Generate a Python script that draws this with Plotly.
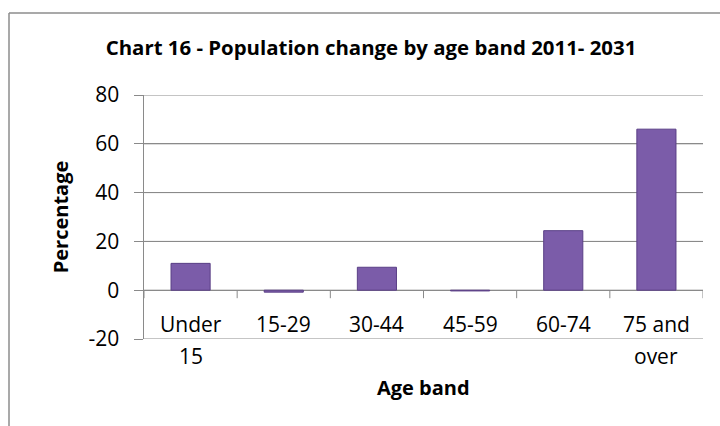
import plotly.graph_objects as go

categories = ["Under 15", "15-29", "30-44", "45-59", "60-74", "75 and over"]
label_line1 = ["Under", "15-29", "30-44", "45-59", "60-74", "75 and"]
label_line2 = ["15", "", "", "", "", "over"]
values = [11.0, -0.8, 9.4, -0.3, 24.4, 66.0]
y_ticks = [-20, 0, 20, 40, 60, 80]

FONT = "Open Sans"
GRID = "#8a8a8a"

W, H = 720, 426
L, R, T, B = 144, 17, 95, 87
pw, ph = W - L - R, H - T - B

fig = go.Figure()
fig.add_trace(go.Bar(
    x=categories, y=values,
    marker=dict(color="#7B5CA9", line=dict(color="#5A3F86", width=1)),
    width=0.42, showlegend=False, hoverinfo="skip",
))

# category labels (two lines, as in the original wrapped axis labels)
annotations = [
    dict(x=c, y=0, xref="x", yref="y", text=t, showarrow=False,
         yanchor="top", yshift=-18, font=dict(family=FONT, size=21))
    for c, t in zip(categories, label_line1)
]
annotations += [
    dict(x=c, y=-20, xref="x", yref="y", text=t, showarrow=False,
         yanchor="top", yshift=-1, font=dict(family=FONT, size=21))
    for c, t in zip(categories, label_line2) if t
]
annotations.append(dict(
    x=0.5, xref="paper", y=-20, yref="y", yanchor="top", yshift=-33,
    text="<b>Age band</b>", showarrow=False, font=dict(family=FONT, size=20),
))

# horizontal gridlines at each y tick
shapes = [
    dict(type="line", xref="paper", yref="y", x0=0, x1=1, y0=v, y1=v,
         layer="below", line=dict(color=GRID, width=1))
    for v in y_ticks
]
# category-boundary tick marks hanging below the zero axis line
shapes += [
    dict(type="line", xref="x", yref="y", x0=i - 0.5, x1=i - 0.5,
         ysizemode="pixel", yanchor=0, y0=0, y1=-8,
         line=dict(color=GRID, width=1))
    for i in range(len(categories) + 1)
]
# chart-area border (left and top edges visible in the crop)
shapes += [
    dict(type="line", xref="paper", yref="paper",
         x0=(9 - L) / pw, x1=(W + 20 - L) / pw,
         y0=(H - B - 13) / ph, y1=(H - B - 13) / ph,
         line=dict(color="#8c8c8c", width=1.5)),
    dict(type="line", xref="paper", yref="paper",
         x0=(9 - L) / pw, x1=(9 - L) / pw,
         y0=(H - B - 13) / ph, y1=(H - B - H - 20) / ph,
         line=dict(color="#8c8c8c", width=1.5)),
]

fig.update_layout(
    width=W, height=H,
    margin=dict(l=L, r=R, t=T, b=B, autoexpand=False),
    paper_bgcolor="white", plot_bgcolor="white",
    font=dict(family=FONT, color="#000000"),
    title=dict(
        text="<b>Chart 16 - Population change by age band 2011- 2031</b>",
        x=371 / W, xanchor="center", y=1 - 48 / H, yanchor="middle",
        font=dict(family=FONT, size=20.4, color="#000000"),
    ),
    yaxis=dict(
        range=[-20, 80], tickvals=y_ticks,
        ticktext=[str(v) + "\u2002" for v in y_ticks],
        showgrid=True, gridcolor=GRID, gridwidth=1,
        zeroline=True, zerolinecolor=GRID, zerolinewidth=1,
        showline=True, linecolor=GRID, linewidth=1,
        ticks="outside", ticklen=9, tickcolor=GRID,
        tickfont=dict(family=FONT, size=21),
        title=dict(text="<b>Percentage</b>", font=dict(family=FONT, size=20), standoff=14),
    ),
    xaxis=dict(
        type="category", categoryorder="array", categoryarray=categories,
        range=[-0.5, 5.5], anchor="y",
        showticklabels=False, ticks="",
        showline=False, showgrid=False, zeroline=False,
    ),
    annotations=annotations,
    shapes=shapes,
)

fig.write_html("out.html")
